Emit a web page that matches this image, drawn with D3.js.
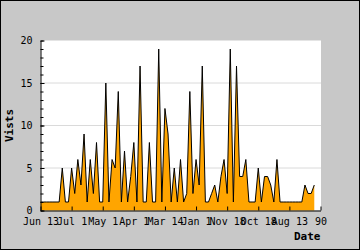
<!DOCTYPE html>
<html>
<head>
<meta charset="utf-8">
<script src="https://cdn.jsdelivr.net/npm/d3@7"></script>
<style>
  html, body { margin: 0; padding: 0; background: #fff; }
  svg { display: block; }
</style>
</head>
<body>
<div id="chart"></div>
<script>
// daily visit counts, one per day index
const visits = [
  1, 1, 1, 1, 1, 1, 1, 5, 1, 1,
  5, 2, 6, 3, 9, 1, 6, 2, 8, 1,
  1, 15, 1, 6, 5, 14, 1, 7, 1, 4,
  8, 1, 17, 1, 1, 8, 1, 1, 19, 1,
  12, 9, 1, 5, 1, 6, 1, 2, 14, 2,
  6, 3, 17, 1, 1, 2, 3, 1, 4, 6,
  2, 19, 1, 17, 4, 4, 6, 1, 1, 1,
  5, 1, 4, 4, 3, 1, 6, 1, 1, 1,
  1, 1, 1, 1, 1, 3, 2, 2, 3
];

const xTicks = [0, 10, 20, 30, 40, 50, 60, 70, 80, 90];
const xTickLabels = ["Jun 13", "Jul 1", "May 1", "Apr 1", "Mar 14", "Jan 1", "Nov 18", "Oct 18", "Aug 13", "90"];
const yMajor = [0, 5, 10, 15, 20];
const yGrid = [5, 10, 15];

const width = 360;
const height = 250;
const margins = { top: 40.5, right: 39.5, bottom: 39.5, left: 40.5 };

const svg = d3.select("#chart").append("svg")
  .attr("width", width)
  .attr("height", height);

// grey background with black frame
svg.append("rect")
  .attr("x", 0.5).attr("y", 0.5)
  .attr("width", width - 1).attr("height", height - 1)
  .attr("fill", "#c8c8c8")
  .attr("stroke", "#000");

const x = d3.scaleLinear()
  .domain([0, 90])
  .range([margins.left, width - margins.right]);

const y = d3.scaleLinear()
  .domain([0, 20])
  .range([height - margins.bottom, margins.top]);

svg.append("rect")
  .attr("x", margins.left)
  .attr("y", margins.top)
  .attr("width", width - margins.left - margins.right + 0.5)
  .attr("height", height - margins.top - margins.bottom)
  .attr("fill", "#fff");

svg.append("g")
  .selectAll("line")
  .data(yGrid)
  .join("line")
  .attr("x1", margins.left)
  .attr("x2", width - margins.right + 0.5)
  .attr("y1", d => y(d))
  .attr("y2", d => y(d))
  .attr("stroke", "#dadada");

const area = d3.area()
  .x((d, i) => x(i))
  .y0(y(0))
  .y1(d => y(d));

const line = d3.line()
  .x((d, i) => x(i))
  .y(d => y(d));

svg.append("path")
  .datum(visits)
  .attr("d", area)
  .attr("fill", "#ffa500");

svg.append("path")
  .datum(visits)
  .attr("d", line)
  .attr("fill", "none")
  .attr("stroke", "#000")
  .attr("stroke-width", 1);

const font = "'DejaVu Sans Mono', monospace";

// minor ticks every unit
svg.append("g")
  .attr("transform", `translate(${margins.left},0)`)
  .call(d3.axisLeft(y).tickValues(d3.range(0, 21)).tickSize(-3).tickFormat(""))
  .call(g => g.select(".domain").remove());

const yAxis = svg.append("g")
  .attr("transform", `translate(${margins.left},0)`)
  .call(d3.axisLeft(y).tickValues(yMajor).tickSize(-4).tickSizeOuter(0).tickPadding(8));

const xAxis = svg.append("g")
  .attr("transform", `translate(0,${y(0)})`)
  .call(d3.axisBottom(x)
    .tickValues(xTicks)
    .tickSize(-4)
    .tickSizeOuter(0)
    .tickPadding(7)
    .tickFormat((d, i) => xTickLabels[i]));

[yAxis, xAxis].forEach(g => {
  g.selectAll("text")
    .attr("font-family", font)
    .attr("font-size", 10)
    .attr("fill", "#000");
  g.selectAll("line, path").attr("stroke", "#000");
});

svg.append("text")
  .attr("x", width - margins.right)
  .attr("y", 240)
  .attr("text-anchor", "end")
  .attr("font-family", font)
  .attr("font-weight", "bold")
  .attr("font-size", 11)
  .text("Date");

svg.append("text")
  .attr("transform", `translate(13,${(margins.top + height - margins.bottom) / 2}) rotate(-90)`)
  .attr("text-anchor", "middle")
  .attr("font-family", font)
  .attr("font-weight", "bold")
  .attr("font-size", 11)
  .text("Vists");
</script>
</body>
</html>
